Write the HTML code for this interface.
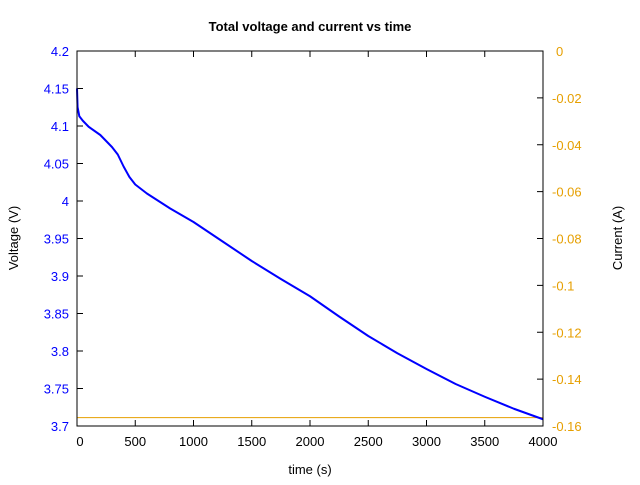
<!DOCTYPE html>
<html><head><meta charset="utf-8"><style>
body{margin:0;background:#fff;font-family:"Liberation Sans",sans-serif}
text{font-family:"Liberation Sans",sans-serif}
</style></head><body>
<svg id="chart" width="640" height="480" viewBox="0 0 640 480" xmlns="http://www.w3.org/2000/svg">
<rect width="640" height="480" fill="#fff"/>
<text x="310" y="31" text-anchor="middle" font-size="13" font-weight="bold">Total voltage and current vs time</text>
<text x="310" y="474" text-anchor="middle" font-size="13">time (s)</text>
<text transform="translate(18,238) rotate(-90)" text-anchor="middle" font-size="13">Voltage (V)</text>
<text transform="translate(622,238) rotate(-90)" text-anchor="middle" font-size="13">Current (A)</text>
<g id="axes"></g>
<g id="series"></g>
<rect x="77" y="51" width="466" height="375" fill="none" stroke="#000" stroke-width="1"/>
</svg>
<script>
const times=[0,5,20,50,100,200,300,350,400,450,500,600,800,1000,1250,1500,1750,2000,2250,2500,2750,3000,3250,3500,3750,4000];
const voltage=[4.15,4.125,4.113,4.107,4.099,4.088,4.072,4.062,4.046,4.032,4.022,4.01,3.99,3.972,3.946,3.92,3.896,3.873,3.846,3.82,3.797,3.776,3.756,3.739,3.723,3.709];
const currentTimes=[0,4000];
const current=[-0.1564,-0.1564];
const xTicks=[0,500,1000,1500,2000,2500,3000,3500,4000];
const yTicks=[3.7,3.75,3.8,3.85,3.9,3.95,4,4.05,4.1,4.15,4.2];
const y2Ticks=[0,-0.02,-0.04,-0.06,-0.08,-0.1,-0.12,-0.14,-0.16];
const L=77,R=543,T=51,B=426,NS="http://www.w3.org/2000/svg";
const xs=t=>L+(t-0)/4000*(R-L);
const ys=v=>B-(v-3.7)/0.5*(B-T);
const y2s=c=>T+(0-c)/0.16*(B-T);
const ax=document.getElementById('axes'),se=document.getElementById('series');
function mk(tag,at,p){const e=document.createElementNS(NS,tag);for(const k in at)e.setAttribute(k,at[k]);p.appendChild(e);return e;}
xTicks.forEach(t=>{
 const x=xs(t);
 const l=mk('line',{x1:x,x2:x,y1:B,y2:B-6,stroke:'#000'},ax);
 
 
 const l2=mk('line',{x1:x,x2:x,y1:T,y2:T+6,stroke:'#000'},ax);
 
 
 const tx=mk('text',{x:x+(t==0?3:0),y:446,'text-anchor':'middle','font-size':13},ax);tx.textContent=t;
 
 
});
yTicks.forEach(v=>{
 const y=ys(v);
 const l=mk('line',{x1:L,x2:L+6,y1:y,y2:y,stroke:'#000'},ax);
 
 
 const tx=mk('text',{x:69,y:y+5,'text-anchor':'end','font-size':13,fill:'#0000ff'},ax);tx.textContent=String(+v.toFixed(2));
 
 
});
y2Ticks.forEach(c=>{
 const y=y2s(c);
 const l=mk('line',{x1:R,x2:R-6,y1:y,y2:y,stroke:'#000'},ax);
 
 
 const tx=mk('text',{x:c==0?556:552,y:y+5,'text-anchor':'start','font-size':13,fill:'#e69f00'},ax);tx.textContent=c==0?'0':'-'+String(+(-c).toFixed(2)).replace(/^0/,'0');
 
 
});
const cp=mk('polyline',{points:currentTimes.map((t,i)=>xs(t)+','+y2s(current[i])).join(' '),fill:'none',stroke:'#e69f00','stroke-width':1},se);


const vp=mk('polyline',{points:times.map((t,i)=>xs(t)+','+ys(voltage[i])).join(' '),fill:'none',stroke:'#0000ff','stroke-width':2,'stroke-linejoin':'round'},se);


</script>
</body></html>
